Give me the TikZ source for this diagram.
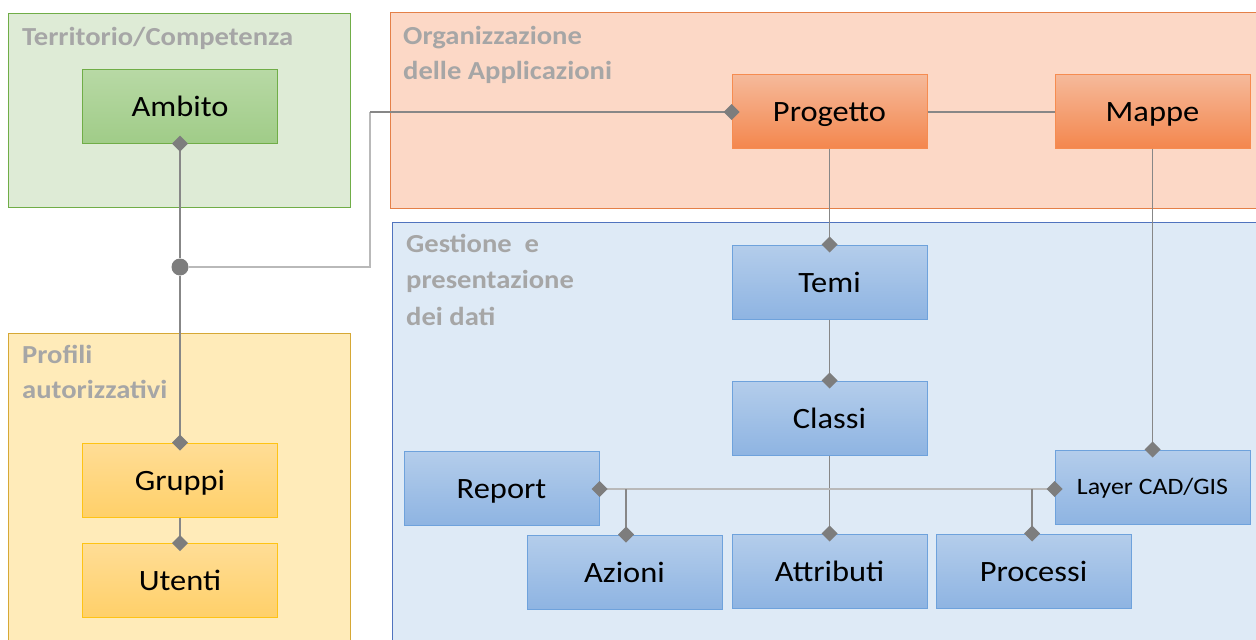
\documentclass[tikz,border=0pt]{standalone}
\usepackage{fontspec}
\setmainfont{Carlito}[FakeStretch=1.1]
\usetikzlibrary{arrows.meta}
\definecolor{gFill}{RGB}{222,235,214}
\definecolor{gLine}{RGB}{112,173,71}
\definecolor{gTop}{RGB}{184,217,165}
\definecolor{gBot}{RGB}{160,204,136}
\definecolor{oFill}{RGB}{252,216,198}
\definecolor{oLine}{RGB}{228,128,72}
\definecolor{oTop}{RGB}{245,186,155}
\definecolor{oBot}{RGB}{244,135,78}
\definecolor{oBox}{RGB}{246,140,80}
\definecolor{bFill}{RGB}{222,234,246}
\definecolor{bLine}{RGB}{80,115,190}
\definecolor{bTop}{RGB}{180,205,235}
\definecolor{bBot}{RGB}{142,180,226}
\definecolor{bBox}{RGB}{110,162,220}
\definecolor{yFill}{RGB}{255,235,185}
\definecolor{yLine}{RGB}{214,168,53}
\definecolor{yTop}{RGB}{255,221,150}
\definecolor{yBot}{RGB}{255,208,105}
\definecolor{yBox}{RGB}{255,195,20}
\definecolor{lineGray}{RGB}{135,135,135}
\definecolor{lightGray}{RGB}{185,185,185}
\definecolor{diaGray}{RGB}{125,125,125}
\definecolor{titleGray}{RGB}{166,166,166}
\begin{document}
\begin{tikzpicture}[x=1pt,y=-1pt,
  container/.style={line width=1pt},
  title/.style={anchor=north west, inner sep=0pt, align=left, text=titleGray,
    font=\fontsize{26}{35}\selectfont\bfseries},
  box/.style={draw, line width=1pt, minimum width=195pt, minimum height=74pt,
    inner sep=0pt, text=black, text height=20.5pt, text depth=0pt,
    font=\fontsize{29.5}{36}\selectfont},
  gbox/.style={box, draw=gLine, top color=gTop, bottom color=gBot},
  obox/.style={box, draw=oBox, top color=oTop, bottom color=oBot},
  bbox/.style={box, draw=bBox, top color=bTop, bottom color=bBot},
  ybox/.style={box, draw=yBox, top color=yTop, bottom color=yBot},
  conn/.style={draw=lineGray, line width=1.5pt},
  lconn/.style={draw=lightGray, line width=2.2pt},
  dE/.style={-{Turned Square[length=16pt,width=16pt,fill=diaGray,color=diaGray]}, shorten >=-8pt},
  dS/.style={{Turned Square[length=16pt,width=16pt,fill=diaGray,color=diaGray]}-, shorten <=-8pt},
  dB/.style={{Turned Square[length=16pt,width=16pt,fill=diaGray,color=diaGray]}-{Turned Square[length=16pt,width=16pt,fill=diaGray,color=diaGray]}, shorten <=-8pt, shorten >=-8pt}
]
\clip (0,0) rectangle (1256,640);
\fill[white] (0,0) rectangle (1256,640);

% containers
\filldraw[container, fill=gFill, draw=gLine] (8,13) rectangle (350,207);
\filldraw[container, fill=oFill, draw=oLine] (390,12) rectangle (1270,208);
\filldraw[container, fill=bFill, draw=bLine] (392,222) rectangle (1270,660);
\filldraw[container, fill=yFill, draw=yLine] (8,333) rectangle (350,660);

% titles
\node[title] (tTerr) at (22,27) {Territorio/Competenza};
\node[title] (tOrg) at (403,26) {Organizzazione\\delle Applicazioni};
\node[title, font=\fontsize{26}{36.5}\selectfont\bfseries] (tGest) at (406,234) {Gestione\ \ e\\presentazione\\dei dati};
\node[title] (tProf) at (22,345) {Profili\\autorizzativi};

% boxes
\node[gbox] (ambito) at (180,106) {Ambito};
\node[obox] (progetto) at (829.5,111) {Progetto};
\node[obox] (mappe) at (1152.5,111) {Mappe};
\node[bbox] (temi) at (829.5,282) {Temi};
\node[bbox] (classi) at (829.5,418) {Classi};
\node[bbox] (report) at (501.5,488) {Report};
\node[bbox, font=\fontsize{23.5}{28}\selectfont, text height=15pt] (layer) at (1152.5,487) {Layer CAD/GIS};
\node[bbox] (azioni) at (624.5,572) {Azioni};
\node[bbox] (attributi) at (829.5,571) {Attributi};
\node[bbox] (processi) at (1033.5,571) {Processi};
\node[ybox] (gruppi) at (180,480) {Gruppi};
\node[ybox] (utenti) at (180,580.5) {Utenti};

% junctions
\node[circle, fill=diaGray, minimum size=17pt, inner sep=0pt] (dot) at (180,267) {};
\coordinate (bendA) at (370,267);
\coordinate (bendB) at (370,112);
\coordinate (jAz) at (626,489);
\coordinate (jPr) at (1032,489);

% connectors
\draw[lconn] (dot.east) -- (bendA) -- (bendB);
\draw[conn, dE] (bendB) -- (bendB -| progetto.west);
\draw[conn, dS] (ambito.south) -- (dot.north);
\draw[conn, dE] (dot.south) -- (gruppi.north);
\draw[conn, dE] (gruppi.south) -- (utenti.north);
\draw[conn] (progetto.east |- bendB) -- (bendB -| mappe.west);
\draw[conn, dE] (progetto.south) -- (temi.north);
\draw[conn, dE] (temi.south) -- (classi.north);
\draw[conn, dE] (mappe.south) -- (layer.north);
\draw[conn, dE] (classi.south) -- (attributi.north);
\draw[lconn, line width=2pt, dB] (jAz -| report.east) -- (jAz -| layer.west);
\draw[conn, dE] (jAz) -- (jAz |- azioni.north);
\draw[conn, dE] (jPr) -- (jPr |- processi.north);
\end{tikzpicture}
\end{document}
